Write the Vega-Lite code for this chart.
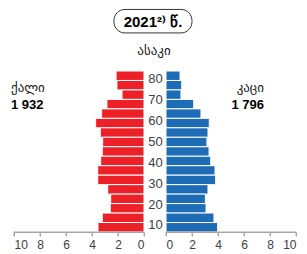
{
  "$schema": "https://vega.github.io/schema/vega-lite/v6.json",
  "padding": {"left": 11, "top": 8, "right": 0, "bottom": 0},
  "background": "white",
  "spacing": 22,
  "bounds": "flush",
  "config": {
    "view": {"stroke": null},
    "font": "Liberation Sans"
  },
  "datasets": {
    "ticks": [{"t": 0}, {"t": 2}, {"t": 4}, {"t": 6}, {"t": 8}, {"t": 10}]
  },
  "data": {"values": [
    {"group": "80+", "lo": 80, "hi": 85, "female": 2.15, "male": 1.08},
    {"group": "75-79", "lo": 75, "hi": 80, "female": 2.08, "male": 1.21},
    {"group": "70-74", "lo": 70, "hi": 75, "female": 1.69, "male": 1.15},
    {"group": "65-69", "lo": 65, "hi": 70, "female": 2.85, "male": 2.13},
    {"group": "60-64", "lo": 60, "hi": 65, "female": 3.26, "male": 2.69},
    {"group": "55-59", "lo": 55, "hi": 60, "female": 3.72, "male": 3.33},
    {"group": "50-54", "lo": 50, "hi": 55, "female": 3.36, "male": 3.23},
    {"group": "45-49", "lo": 45, "hi": 50, "female": 3.18, "male": 3.15},
    {"group": "40-44", "lo": 40, "hi": 45, "female": 3.21, "male": 3.31},
    {"group": "35-39", "lo": 35, "hi": 40, "female": 3.33, "male": 3.44},
    {"group": "30-34", "lo": 30, "hi": 35, "female": 3.56, "male": 3.77},
    {"group": "25-29", "lo": 25, "hi": 30, "female": 3.56, "male": 3.82},
    {"group": "20-24", "lo": 20, "hi": 25, "female": 2.79, "male": 3.23},
    {"group": "15-19", "lo": 15, "hi": 20, "female": 2.56, "male": 3.03},
    {"group": "10-14", "lo": 10, "hi": 15, "female": 2.59, "male": 3.08},
    {"group": "5-9", "lo": 5, "hi": 10, "female": 3.21, "male": 3.69},
    {"group": "0-4", "lo": 0, "hi": 5, "female": 3.54, "male": 3.97}
  ]},
  "hconcat": [
    {
      "width": 130,
      "height": 161,
      "resolve": {"axis": {"x": "independent", "y": "independent"}},
      "layer": [
        {
          "mark": {"type": "rect", "color": "#ED2027", "stroke": "white", "strokeWidth": 1},
          "encoding": {
            "y": {"field": "lo", "type": "quantitative", "scale": {"domain": [0, 85], "nice": false, "zero": false}, "axis": null},
            "y2": {"field": "hi"},
            "x": {"field": "female", "type": "quantitative", "scale": {"domain": [0, 10], "reverse": true, "nice": false}, "axis": {"values": [0, 2, 4, 6, 8, 10], "title": null, "grid": false, "labelOverlap": false, "domain": true, "domainColor": "#a6a6a6", "ticks": true, "tickColor": "#a6a6a6", "tickSize": 4, "labelPadding": 3, "labelFontSize": 12, "labelColor": "#404040", "zindex": 1}},
            "x2": {"datum": 0}
          }
        },
        {
          "data": {"values": [{"label": "baseline"}]},
          "mark": {"type": "rule", "color": "#a6a6a6", "strokeWidth": 1},
          "encoding": {
            "x": {"datum": 0, "type": "quantitative", "axis": null},
            "x2": {"datum": 10},
            "y": {"datum": 0, "type": "quantitative", "axis": null}
          }
        },
        {
          "data": {"name": "ticks"},
          "mark": {"type": "rule", "color": "#a6a6a6", "strokeWidth": 1},
          "encoding": {
            "x": {"field": "t", "type": "quantitative", "axis": null},
            "y": {"datum": 0, "type": "quantitative", "axis": null},
            "y2": {"datum": -2.1}
          }
        },
        {
          "data": {"values": [{"label": "box"}]},
          "mark": {"type": "rect", "fill": "white", "fillOpacity": 0, "stroke": "#333333", "strokeWidth": 1, "cornerRadius": 11},
          "encoding": {
            "x": {"datum": 2.31, "type": "quantitative", "axis": null},
            "x2": {"datum": -3.69},
            "y": {"datum": 117.5, "type": "quantitative", "axis": null},
            "y2": {"datum": 105.1}
          }
        },
        {
          "data": {"values": [{"label": "2021²⁾ წ."}]},
          "mark": {"type": "text", "font": "Liberation Sans", "fontSize": 15, "fontWeight": "bold", "color": "#000000", "align": "center", "baseline": "middle"},
          "encoding": {
            "x": {"datum": -0.69, "type": "quantitative", "axis": null},
            "y": {"datum": 110.9, "type": "quantitative", "axis": null},
            "text": {"field": "label"}
          }
        },
        {
          "data": {"values": [{"label": "ასაკი"}]},
          "mark": {"type": "text", "font": "DejaVu Sans", "fontSize": 13, "color": "#1a1a1a", "align": "center", "baseline": "middle"},
          "encoding": {
            "x": {"datum": -0.77, "type": "quantitative", "axis": null},
            "y": {"datum": 95.6, "type": "quantitative", "axis": null},
            "text": {"field": "label"}
          }
        },
        {
          "data": {"values": [{"label": "ქალი"}]},
          "mark": {"type": "text", "font": "DejaVu Sans", "fontSize": 13, "color": "#1a1a1a", "align": "left", "baseline": "middle"},
          "encoding": {
            "x": {"datum": 10.23, "type": "quantitative", "axis": null},
            "y": {"datum": 76.0, "type": "quantitative", "axis": null},
            "text": {"field": "label"}
          }
        },
        {
          "data": {"values": [{"label": "1 932"}]},
          "mark": {"type": "text", "font": "Liberation Sans", "fontSize": 13, "fontWeight": "bold", "color": "#000000", "align": "left", "baseline": "middle"},
          "encoding": {
            "x": {"datum": 10.23, "type": "quantitative", "axis": null},
            "y": {"datum": 66.8, "type": "quantitative", "axis": null},
            "text": {"field": "label"}
          }
        }
      ]
    },
    {
      "width": 130,
      "height": 161,
      "resolve": {"scale": {"y": "independent"}},
      "layer": [
        {
          "resolve": {"axis": {"x": "independent", "y": "independent"}},
          "layer": [
            {
              "mark": {"type": "rect", "color": "#1F6CB6", "stroke": "white", "strokeWidth": 1},
              "encoding": {
                "y": {"field": "lo", "type": "quantitative", "scale": {"domain": [0, 85], "nice": false, "zero": false}, "axis": null},
                "y2": {"field": "hi"},
                "x": {"field": "male", "type": "quantitative", "scale": {"domain": [0, 10], "nice": false}, "axis": {"values": [0, 2, 4, 6, 8, 10], "title": null, "grid": false, "labelOverlap": false, "domain": true, "domainColor": "#a6a6a6", "ticks": true, "tickColor": "#a6a6a6", "tickSize": 4, "labelPadding": 3, "labelFontSize": 12, "labelColor": "#404040", "zindex": 1}},
                "x2": {"datum": 0}
              }
            },
            {
              "data": {"values": [{"label": "baseline"}]},
              "mark": {"type": "rule", "color": "#a6a6a6", "strokeWidth": 1},
              "encoding": {
                "x": {"datum": 0, "type": "quantitative", "axis": null},
                "x2": {"datum": 10},
                "y": {"datum": 0, "type": "quantitative", "axis": null}
              }
            },
            {
              "data": {"name": "ticks"},
              "mark": {"type": "rule", "color": "#a6a6a6", "strokeWidth": 1},
              "encoding": {
                "x": {"field": "t", "type": "quantitative", "axis": null},
                "y": {"datum": 0, "type": "quantitative", "axis": null},
                "y2": {"datum": -2.1}
              }
            },
            {
              "data": {"values": [{"label": "კაცი"}]},
              "mark": {"type": "text", "font": "DejaVu Sans", "fontSize": 13, "color": "#1a1a1a", "align": "right", "baseline": "middle"},
              "encoding": {
                "x": {"datum": 7.54, "type": "quantitative", "axis": null},
                "y": {"datum": 76.0, "type": "quantitative", "axis": null},
                "text": {"field": "label"}
              }
            },
            {
              "data": {"values": [{"label": "1 796"}]},
              "mark": {"type": "text", "font": "Liberation Sans", "fontSize": 13, "fontWeight": "bold", "color": "#000000", "align": "right", "baseline": "middle"},
              "encoding": {
                "x": {"datum": 7.54, "type": "quantitative", "axis": null},
                "y": {"datum": 66.8, "type": "quantitative", "axis": null},
                "text": {"field": "label"}
              }
            }
          ]
        },
        {
          "data": {"values": [{"age": 10}, {"age": 20}, {"age": 30}, {"age": 40}, {"age": 50}, {"age": 60}, {"age": 70}, {"age": 80}]},
          "mark": {"type": "rule", "strokeOpacity": 0},
          "encoding": {
            "y": {"field": "age", "type": "quantitative", "scale": {"domain": [6.65, 83.68], "nice": false, "zero": false}, "axis": {"orient": "left", "values": [10, 20, 30, 40, 50, 60, 70, 80], "title": null, "grid": false, "ticks": false, "tickSize": 0, "domain": false, "labelAlign": "center", "labelBaseline": "middle", "labelPadding": 11, "labelFontSize": 13, "labelColor": "#404040"}}
          }
        }
      ]
    }
  ]
}
